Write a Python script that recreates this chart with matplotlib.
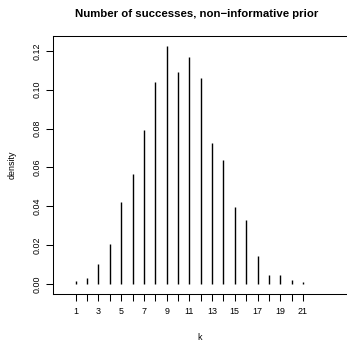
import matplotlib
matplotlib.use("Agg")
import matplotlib.pyplot as plt

# number of successes k and estimated density
k = list(range(1, 22))
density = [0.0013, 0.0029, 0.0101, 0.0207, 0.0420, 0.0567, 0.0790, 0.1037,
           0.1227, 0.1092, 0.1169, 0.1061, 0.0725, 0.0639, 0.0394, 0.0330,
           0.0146, 0.0048, 0.0048, 0.0019, 0.0008]
yticks = [0.00, 0.02, 0.04, 0.06, 0.08, 0.10, 0.12]

plt.rcParams['font.family'] = ['Liberation Sans', 'DejaVu Sans']

fig = plt.figure(figsize=(3.47, 3.42), dpi=100)
ax = fig.add_axes([53 / 347, (342 - 293.5) / 342, 306.8 / 347, 257.5 / 342])

ax.vlines(k, 0, density, color='black', linewidth=1.0)

ax.set_xlim(-1, 26)
ax.set_ylim(-0.0049, 0.1276)

ax.set_xticks(k)
ax.set_xticklabels([str(v) if v % 2 == 1 else '' for v in k])
ax.set_yticks(yticks)
ax.set_yticklabels(['%.2f' % v for v in yticks], rotation=90, va='center')

ax.tick_params(axis='both', labelsize=6.4, length=5, width=0.75, pad=3)
ax.tick_params(axis='x', pad=5)
for s in ['left', 'top', 'bottom']:
    ax.spines[s].set_linewidth(0.75)
ax.spines['right'].set_visible(False)

fig.text(200 / 347, 1 - 337 / 342, 'k', ha='center', va='center', fontsize=6.4)
ax.set_ylabel('density', fontsize=6.4, labelpad=12)
fig.text(196.5 / 347, 1 - 14 / 342, 'Number of successes, non\u2212informative prior',
         ha='center', va='center', fontsize=8.2, fontweight='bold')

fig.savefig('out.png', dpi=100)
